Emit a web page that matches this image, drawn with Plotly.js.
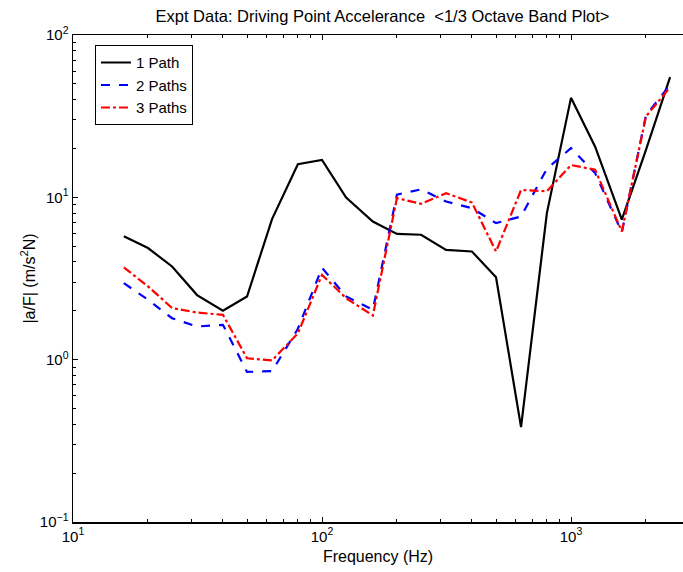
<!DOCTYPE html>
<html><head><meta charset="utf-8">
<script src="https://cdn.plot.ly/plotly-3.0.1.min.js"></script>
<style>html,body{margin:0;padding:0;background:#fff}</style>
</head><body>
<div id="plot" style="width:683px;height:572px"></div>
<script>
const freqs = [16, 20, 25, 31.5, 40, 50, 63, 80, 100, 125, 160, 200, 250, 315, 400, 500, 630, 800, 1000, 1250, 1600, 2000, 2500];
const path1 = [5.75, 4.87, 3.75, 2.5, 2.0, 2.45, 7.35, 16.0, 17.0, 9.97, 7.1, 5.95, 5.88, 4.75, 4.64, 3.22, 0.384, 8.0, 41.0, 20.5, 7.3, 19.6, 55.0];
const path2 = [2.96, 2.34, 1.8, 1.6, 1.64, 0.84, 0.85, 1.55, 3.68, 2.45, 2.03, 10.4, 11.2, 9.42, 8.58, 6.94, 7.62, 15.0, 20.1, 14.1, 6.1, 32.0, 49.3];
const path3 = [3.7, 2.83, 2.08, 1.95, 1.89, 1.02, 0.99, 1.45, 3.33, 2.39, 1.87, 9.89, 9.12, 10.6, 9.29, 4.64, 11.1, 10.9, 15.8, 14.8, 6.16, 31.5, 47.6];
const seriesNames = ["1 Path", "2 Paths", "3 Paths"];
const xTickVals = [10, 100, 1000];
const xTickText = ["10<sup>1</sup>", "10<sup>2</sup>", "10<sup>3</sup>"];
const yTickVals = [0.1, 1, 10, 100];
const yTickText = ["10<sup>−1</sup>", "10<sup>0</sup>", "10<sup>1</sup>", "10<sup>2</sup>"];

const FONT = '"Liberation Sans", Arial, Helvetica, sans-serif';

const traces = [
  {x: freqs, y: path1, name: seriesNames[0], mode: 'lines', line: {color: '#000000', width: 2.2, dash: 'solid'}},
  {x: freqs, y: path2, name: seriesNames[1], mode: 'lines', line: {color: '#0000ff', width: 2.2, dash: 'dash'}},
  {x: freqs, y: path3, name: seriesNames[2], mode: 'lines', line: {color: '#ff0000', width: 2.2, dash: 'dashdot'}}
];

const layout = {
  width: 683, height: 572,
  margin: {l: 73, r: 0, t: 35, b: 50},
  paper_bgcolor: '#ffffff', plot_bgcolor: '#ffffff',
  font: {family: FONT, size: 14, color: '#000'},
  showlegend: true,
  title: {text: 'Expt Data: Driving Point Accelerance &nbsp;&lt;1/3 Octave Band Plot&gt;', font: {family: FONT, size: 16.5, color: '#000'},
          xref: 'container', x: 0.56, xanchor: 'center', yref: 'container', y: 0.981, yanchor: 'top'},
  xaxis: {
    type: 'log', range: [1, 1 + 610/249],
    tickmode: 'array', tickvals: xTickVals, ticktext: xTickText,
    ticks: 'inside', ticklen: 5, tickwidth: 1, tickcolor: '#000',
    minor: {ticks: 'inside', ticklen: 3, tickcolor: '#000', dtick: 'D1', showgrid: false},
    showline: true, linecolor: '#000', linewidth: 1.5, mirror: 'ticks',
    showgrid: false, zeroline: false,
    tickfont: {family: FONT, size: 15},
    title: {text: 'Frequency (Hz)', font: {family: FONT, size: 16}, standoff: 7}
  },
  yaxis: {
    type: 'log', range: [-1, 2],
    tickmode: 'array', tickvals: yTickVals, ticktext: yTickText,
    ticks: 'inside', ticklen: 5, tickwidth: 1, tickcolor: '#000',
    minor: {ticks: 'inside', ticklen: 3, tickcolor: '#000', dtick: 'D1', showgrid: false},
    showline: true, linecolor: '#000', linewidth: 1.5, mirror: false,
    showgrid: false, zeroline: false,
    tickfont: {family: FONT, size: 15},
    title: {text: '|a/F| (m/s<sup>2</sup>N)', font: {family: FONT, size: 16}, standoff: 0}
  },
  legend: {
    x: 0.036, y: 0.979, xanchor: 'left', yanchor: 'top',
    bgcolor: '#ffffff', bordercolor: '#000', borderwidth: 1,
    font: {family: FONT, size: 15}, tracegroupgap: 0, itemwidth: 30
  }
};

Plotly.newPlot('plot', traces, layout, {displayModeBar: false, staticPlot: true});
</script>
</body></html>
